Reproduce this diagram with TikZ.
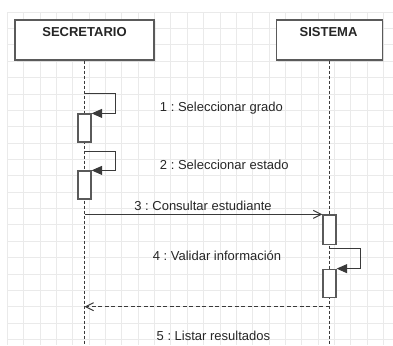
\documentclass[tikz,border=0pt]{standalone}
\usepackage{fontspec}
\setmainfont{Liberation Sans}
\usetikzlibrary{arrows.meta,positioning,shadows}
\frenchspacing
\definecolor{ink}{HTML}{262626}
\definecolor{frame}{HTML}{5A5A5A}
\definecolor{wire}{HTML}{3A3A3A}
\definecolor{gridline}{HTML}{EAEAEA}
\tikzset{
  actorbox/.style={draw=frame,fill=white,line width=1.4pt,minimum height=40pt,inner sep=0pt,
    drop shadow={opacity=0.12,shadow xshift=1.5pt,shadow yshift=-1.5pt}},
  actorname/.style={font=\fontsize{13}{15}\selectfont\bfseries,text=ink,anchor=base,inner sep=0pt},
  actbox/.style={draw=frame,fill=white,line width=1.2pt,minimum width=13pt,inner sep=0pt},
  msglabel/.style={font=\fontsize{13}{15}\selectfont,text=ink,anchor=base,inner sep=0pt},
  lifeline/.style={line width=1pt,draw=wire,dash pattern=on 3pt off 2pt},
  callarrow/.style={-{Straight Barb[length=8pt,width=8pt]},line width=1pt,draw=wire},
  replyarrow/.style={callarrow,dash pattern=on 4pt off 2.5pt},
  selfarrow/.style={-{Triangle[length=10.5pt,width=9pt]},line width=1pt,draw=wire}
}

\begin{document}
\begin{tikzpicture}[x=1pt,y=-1pt]
  \useasboundingbox (0,0) rectangle (393,345);
  % grid
  \foreach \i in {0,...,23}
    \draw[gridline,line width=0.7pt] (7.3+16.35*\i,12) -- (7.3+16.35*\i,345);
  \foreach \j in {0,...,20}
    \draw[gridline,line width=0.7pt] (7.3,12+16.37*\j) -- (393,12+16.37*\j);

  % actors
  \node[actorbox,minimum width=139pt] (sec) at (84.5,40) {};
  \node[actorbox,minimum width=106pt] (sis) at (329.5,40) {};
  \node[actorname] (secname) at ([yshift=-17.3pt]sec.north) {SECRETARIO};
  \node[actorname] (sisname) at ([xshift=-1pt,yshift=-17.3pt]sis.north) {SISTEMA};

  \coordinate (floor) at (0,345);
  \draw[lifeline] (sec.south) -- (sec.south |- floor);
  \draw[lifeline] (sis.south) -- (sis.south |- floor);

  % activations
  \node[actbox,minimum height=28pt] (act1) at (84.5,128) {};
  \node[actbox,minimum height=28pt] (act2) at (84.5,185) {};
  \node[actbox,minimum height=29.5pt] (act3) at (329.5,229.75) {};
  \node[actbox,minimum height=28.5pt] (act4) at (329.5,283.5) {};

  % messages
  \coordinate (self1) at (84.5,93);
  \draw[selfarrow] (self1) -- ++(31,0) |- (act1.north east);
  \node[msglabel] (lab1) at (221.4,111.7) {1 : Seleccionar grado};

  \coordinate (self2) at (84.5,151);
  \draw[selfarrow] (self2) -- ++(31,0) |- (act2.north east);
  \node[msglabel] (lab2) at (224.3,169.3) {2 : Seleccionar estado};

  \coordinate (call3) at (sec.south |- act3.north);
  \draw[callarrow] (call3) -- (act3.north west);
  \node[msglabel] (lab3) at (203,210) {3 : Consultar estudiante};

  \coordinate (self4) at (329.5,248.5);
  \draw[selfarrow] (self4) -- ++(30.5,0) |- (act4.north east);
  \node[msglabel] (lab4) at (217,260.7) {4 : Validar información};

  \coordinate (ret5) at (329.5,306.7);
  \coordinate (ret5end) at (sec.south |- ret5);
  \draw[replyarrow] (ret5) -- (ret5end);
  \node[msglabel] (lab5) at (213.4,340) {5 : Listar resultados};
\end{tikzpicture}
\end{document}
